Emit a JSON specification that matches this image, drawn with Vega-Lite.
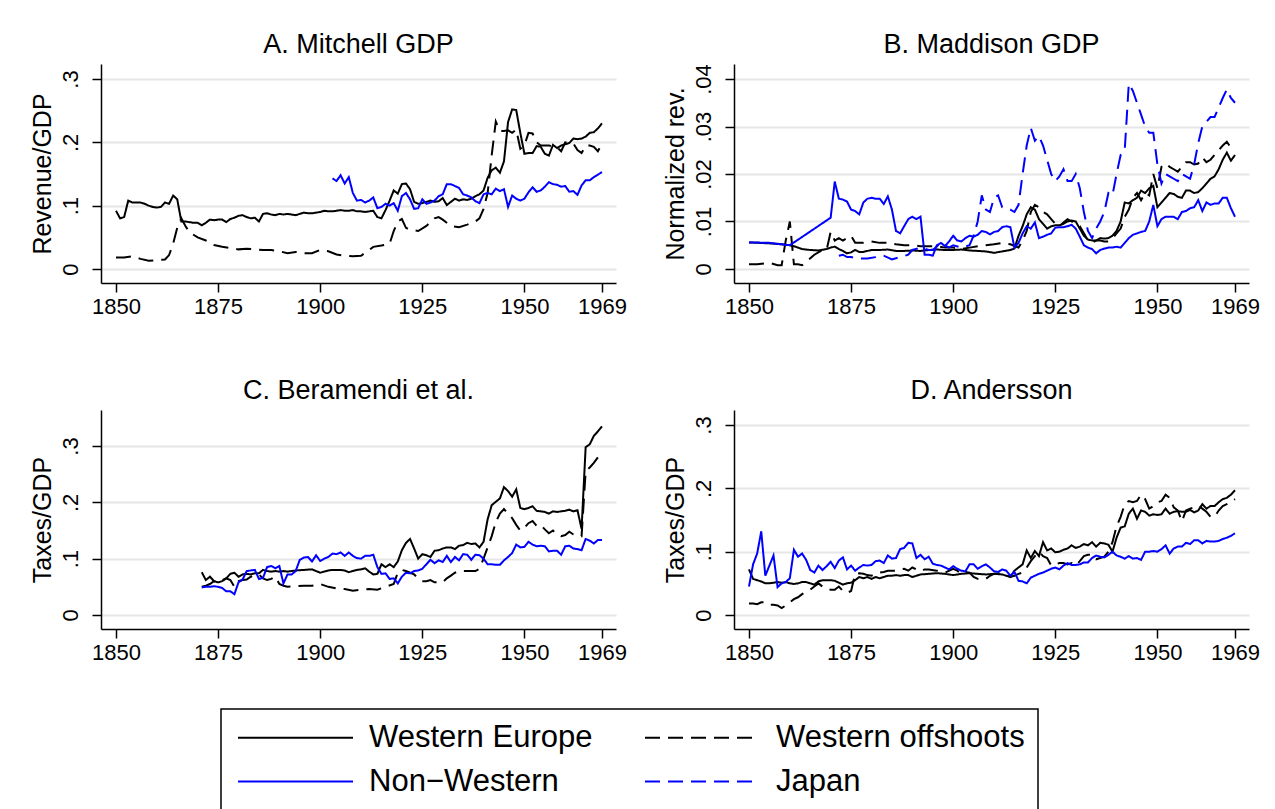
{
"$schema": "https://vega.github.io/schema/vega-lite/v6.json",
"padding": {"left": 30, "top": 30, "right": 0, "bottom": 0},
"background": "white",
"config": {
 "font": "Liberation Sans",
 "view": {"stroke": null},
 "title": {"fontSize": 27, "fontWeight": "normal", "color": "#000", "baseline": "alphabetic", "offset": 5, "anchor": "middle"},
 "axis": {"domainColor": "#000", "domainWidth": 1.5, "tickColor": "#000", "tickWidth": 1.5, "tickSize": 9, "labelFontSize": 22, "labelColor": "#000", "titleFontSize": 25, "titleFontWeight": "normal", "titleColor": "#000", "labelFlush": false, "labelOverlap": false},
 "axisX": {"grid": false, "labelPadding": 4},
 "axisY": {"grid": true, "gridColor": "#e6e6e6", "gridWidth": 2, "labelAngle": -90, "labelAlign": "center", "labelBaseline": "bottom", "labelPadding": 10, "titlePadding": 4},
 "legend": {"strokeColor": "#000", "strokeWidth": 1.5, "fillColor": "white", "padding": 13, "labelFontSize": 31, "labelColor": "#000", "labelOffset": 104, "labelLimit": 500, "columnPadding": 48, "rowPadding": 12, "symbolType": "M-1,0H9", "symbolSize": 529, "symbolStrokeWidth": 2}
},
"datasets": {
"A": [
{"s":"a","t":1850,"v":0.092},{"s":"a","t":1851,"v":0.080},{"s":"a","t":1852,"v":0.082},{"s":"a","t":1853,"v":0.108},{"s":"a","t":1854,"v":0.105},{"s":"a","t":1855,"v":0.105},{"s":"a","t":1856,"v":0.105},{"s":"a","t":1857,"v":0.103},{"s":"a","t":1858,"v":0.100},{"s":"a","t":1859,"v":0.098},{"s":"a","t":1860,"v":0.097},{"s":"a","t":1861,"v":0.098},{"s":"a","t":1862,"v":0.105},{"s":"a","t":1863,"v":0.103},{"s":"a","t":1864,"v":0.116},{"s":"a","t":1865,"v":0.110},{"s":"a","t":1866,"v":0.075},{"s":"a","t":1867,"v":0.075},{"s":"a","t":1868,"v":0.074},{"s":"a","t":1869,"v":0.073},{"s":"a","t":1870,"v":0.073},{"s":"a","t":1871,"v":0.069},{"s":"a","t":1872,"v":0.073},{"s":"a","t":1873,"v":0.078},{"s":"a","t":1874,"v":0.077},{"s":"a","t":1875,"v":0.078},{"s":"a","t":1876,"v":0.078},{"s":"a","t":1877,"v":0.074},{"s":"a","t":1878,"v":0.079},{"s":"a","t":1879,"v":0.081},{"s":"a","t":1880,"v":0.084},{"s":"a","t":1881,"v":0.085},{"s":"a","t":1882,"v":0.082},{"s":"a","t":1883,"v":0.080},{"s":"a","t":1884,"v":0.081},{"s":"a","t":1885,"v":0.075},{"s":"a","t":1886,"v":0.087},{"s":"a","t":1887,"v":0.088},{"s":"a","t":1888,"v":0.086},{"s":"a","t":1889,"v":0.085},{"s":"a","t":1890,"v":0.087},{"s":"a","t":1891,"v":0.086},{"s":"a","t":1892,"v":0.087},{"s":"a","t":1893,"v":0.086},{"s":"a","t":1894,"v":0.085},{"s":"a","t":1895,"v":0.087},{"s":"a","t":1896,"v":0.089},{"s":"a","t":1897,"v":0.088},{"s":"a","t":1898,"v":0.088},{"s":"a","t":1899,"v":0.089},{"s":"a","t":1900,"v":0.090},{"s":"a","t":1901,"v":0.092},{"s":"a","t":1902,"v":0.091},{"s":"a","t":1903,"v":0.091},{"s":"a","t":1904,"v":0.092},{"s":"a","t":1905,"v":0.093},{"s":"a","t":1906,"v":0.092},{"s":"a","t":1907,"v":0.092},{"s":"a","t":1908,"v":0.093},{"s":"a","t":1909,"v":0.091},{"s":"a","t":1910,"v":0.091},{"s":"a","t":1911,"v":0.090},{"s":"a","t":1912,"v":0.091},{"s":"a","t":1913,"v":0.092},{"s":"a","t":1914,"v":0.082},{"s":"a","t":1915,"v":0.080},{"s":"a","t":1916,"v":0.093},{"s":"a","t":1917,"v":0.108},{"s":"a","t":1918,"v":0.124},{"s":"a","t":1919,"v":0.119},{"s":"a","t":1920,"v":0.134},{"s":"a","t":1921,"v":0.135},{"s":"a","t":1922,"v":0.126},{"s":"a","t":1923,"v":0.106},{"s":"a","t":1924,"v":0.103},{"s":"a","t":1925,"v":0.104},{"s":"a","t":1926,"v":0.106},{"s":"a","t":1927,"v":0.108},{"s":"a","t":1928,"v":0.106},{"s":"a","t":1929,"v":0.107},{"s":"a","t":1930,"v":0.112},{"s":"a","t":1931,"v":0.101},{"s":"a","t":1932,"v":0.106},{"s":"a","t":1933,"v":0.111},{"s":"a","t":1934,"v":0.108},{"s":"a","t":1935,"v":0.110},{"s":"a","t":1936,"v":0.109},{"s":"a","t":1937,"v":0.111},{"s":"a","t":1938,"v":0.115},{"s":"a","t":1939,"v":0.118},{"s":"a","t":1940,"v":0.124},{"s":"a","t":1941,"v":0.144},{"s":"a","t":1942,"v":0.156},{"s":"a","t":1943,"v":0.160},{"s":"a","t":1944,"v":0.152},{"s":"a","t":1945,"v":0.170},{"s":"a","t":1946,"v":0.232},{"s":"a","t":1947,"v":0.252},{"s":"a","t":1948,"v":0.251},{"s":"a","t":1949,"v":0.215},{"s":"a","t":1950,"v":0.182},{"s":"a","t":1951,"v":0.183},{"s":"a","t":1952,"v":0.183},{"s":"a","t":1953,"v":0.194},{"s":"a","t":1954,"v":0.193},{"s":"a","t":1955,"v":0.182},{"s":"a","t":1956,"v":0.179},{"s":"a","t":1957,"v":0.196},{"s":"a","t":1958,"v":0.191},{"s":"a","t":1959,"v":0.195},{"s":"a","t":1960,"v":0.197},{"s":"a","t":1961,"v":0.199},{"s":"a","t":1962,"v":0.206},{"s":"a","t":1963,"v":0.205},{"s":"a","t":1964,"v":0.206},{"s":"a","t":1965,"v":0.209},{"s":"a","t":1966,"v":0.215},{"s":"a","t":1967,"v":0.216},{"s":"a","t":1968,"v":0.222},{"s":"a","t":1969,"v":0.230},
{"s":"b","t":1850,"v":0.018},{"s":"b","t":1852,"v":0.018},{"s":"b","t":1854,"v":0.020},{"s":"b","t":1856,"v":0.016},{"s":"b","t":1858,"v":0.013},{"s":"b","t":1860,"v":0.014},{"s":"b","t":1862,"v":0.015},{"s":"b","t":1863,"v":0.022},{"s":"b","t":1864,"v":0.040},{"s":"b","t":1865,"v":0.065},{"s":"b","t":1866,"v":0.080},{"s":"b","t":1867,"v":0.068},{"s":"b","t":1868,"v":0.058},{"s":"b","t":1870,"v":0.050},{"s":"b","t":1872,"v":0.045},{"s":"b","t":1874,"v":0.038},{"s":"b","t":1876,"v":0.035},{"s":"b","t":1878,"v":0.033},{"s":"b","t":1880,"v":0.031},{"s":"b","t":1882,"v":0.032},{"s":"b","t":1884,"v":0.031},{"s":"b","t":1886,"v":0.030},{"s":"b","t":1888,"v":0.030},{"s":"b","t":1890,"v":0.028},{"s":"b","t":1892,"v":0.025},{"s":"b","t":1894,"v":0.027},{"s":"b","t":1896,"v":0.025},{"s":"b","t":1898,"v":0.025},{"s":"b","t":1900,"v":0.030},{"s":"b","t":1902,"v":0.028},{"s":"b","t":1904,"v":0.023},{"s":"b","t":1906,"v":0.021},{"s":"b","t":1908,"v":0.020},{"s":"b","t":1910,"v":0.021},{"s":"b","t":1912,"v":0.030},{"s":"b","t":1913,"v":0.035},{"s":"b","t":1915,"v":0.037},{"s":"b","t":1917,"v":0.040},{"s":"b","t":1918,"v":0.060},{"s":"b","t":1919,"v":0.075},{"s":"b","t":1920,"v":0.079},{"s":"b","t":1921,"v":0.065},{"s":"b","t":1922,"v":0.062},{"s":"b","t":1924,"v":0.060},{"s":"b","t":1926,"v":0.068},{"s":"b","t":1928,"v":0.080},{"s":"b","t":1929,"v":0.082},{"s":"b","t":1930,"v":0.078},{"s":"b","t":1932,"v":0.068},{"s":"b","t":1934,"v":0.066},{"s":"b","t":1936,"v":0.070},{"s":"b","t":1938,"v":0.075},{"s":"b","t":1939,"v":0.080},{"s":"b","t":1940,"v":0.095},{"s":"b","t":1941,"v":0.120},{"s":"b","t":1942,"v":0.180},{"s":"b","t":1943,"v":0.233},{"s":"b","t":1944,"v":0.218},{"s":"b","t":1945,"v":0.218},{"s":"b","t":1946,"v":0.219},{"s":"b","t":1947,"v":0.215},{"s":"b","t":1948,"v":0.220},{"s":"b","t":1949,"v":0.190},{"s":"b","t":1950,"v":0.195},{"s":"b","t":1951,"v":0.215},{"s":"b","t":1952,"v":0.214},{"s":"b","t":1953,"v":0.200},{"s":"b","t":1954,"v":0.195},{"s":"b","t":1956,"v":0.195},{"s":"b","t":1958,"v":0.192},{"s":"b","t":1959,"v":0.186},{"s":"b","t":1960,"v":0.200},{"s":"b","t":1962,"v":0.198},{"s":"b","t":1963,"v":0.188},{"s":"b","t":1964,"v":0.183},{"s":"b","t":1965,"v":0.195},{"s":"b","t":1966,"v":0.195},{"s":"b","t":1967,"v":0.193},{"s":"b","t":1968,"v":0.186},{"s":"b","t":1969,"v":0.198},
{"s":"c","t":1903,"v":0.143},{"s":"c","t":1904,"v":0.139},{"s":"c","t":1905,"v":0.148},{"s":"c","t":1906,"v":0.135},{"s":"c","t":1907,"v":0.145},{"s":"c","t":1908,"v":0.120},{"s":"c","t":1909,"v":0.108},{"s":"c","t":1910,"v":0.109},{"s":"c","t":1911,"v":0.105},{"s":"c","t":1912,"v":0.108},{"s":"c","t":1913,"v":0.113},{"s":"c","t":1914,"v":0.096},{"s":"c","t":1915,"v":0.098},{"s":"c","t":1916,"v":0.103},{"s":"c","t":1917,"v":0.100},{"s":"c","t":1918,"v":0.104},{"s":"c","t":1919,"v":0.092},{"s":"c","t":1920,"v":0.115},{"s":"c","t":1921,"v":0.120},{"s":"c","t":1922,"v":0.110},{"s":"c","t":1923,"v":0.095},{"s":"c","t":1924,"v":0.096},{"s":"c","t":1925,"v":0.110},{"s":"c","t":1926,"v":0.103},{"s":"c","t":1927,"v":0.105},{"s":"c","t":1928,"v":0.108},{"s":"c","t":1929,"v":0.115},{"s":"c","t":1930,"v":0.118},{"s":"c","t":1931,"v":0.134},{"s":"c","t":1932,"v":0.134},{"s":"c","t":1933,"v":0.131},{"s":"c","t":1934,"v":0.128},{"s":"c","t":1935,"v":0.118},{"s":"c","t":1936,"v":0.116},{"s":"c","t":1937,"v":0.113},{"s":"c","t":1938,"v":0.107},{"s":"c","t":1939,"v":0.104},{"s":"c","t":1940,"v":0.118},{"s":"c","t":1941,"v":0.120},{"s":"c","t":1942,"v":0.118},{"s":"c","t":1943,"v":0.127},{"s":"c","t":1944,"v":0.123},{"s":"c","t":1945,"v":0.126},{"s":"c","t":1946,"v":0.098},{"s":"c","t":1947,"v":0.116},{"s":"c","t":1948,"v":0.111},{"s":"c","t":1949,"v":0.108},{"s":"c","t":1950,"v":0.111},{"s":"c","t":1951,"v":0.121},{"s":"c","t":1952,"v":0.129},{"s":"c","t":1953,"v":0.122},{"s":"c","t":1954,"v":0.124},{"s":"c","t":1955,"v":0.130},{"s":"c","t":1956,"v":0.137},{"s":"c","t":1957,"v":0.134},{"s":"c","t":1958,"v":0.133},{"s":"c","t":1959,"v":0.130},{"s":"c","t":1960,"v":0.131},{"s":"c","t":1961,"v":0.122},{"s":"c","t":1962,"v":0.123},{"s":"c","t":1963,"v":0.117},{"s":"c","t":1964,"v":0.132},{"s":"c","t":1965,"v":0.140},{"s":"c","t":1966,"v":0.140},{"s":"c","t":1967,"v":0.145},{"s":"c","t":1968,"v":0.149},{"s":"c","t":1969,"v":0.153}
],
"B": [
{"s":"a","t":1850,"v":0.0056},{"s":"a","t":1855,"v":0.0054},{"s":"a","t":1858,"v":0.0052},{"s":"a","t":1860,"v":0.0050},{"s":"a","t":1861,"v":0.0048},{"s":"a","t":1862,"v":0.0045},{"s":"a","t":1863,"v":0.0042},{"s":"a","t":1865,"v":0.0040},{"s":"a","t":1867,"v":0.0039},{"s":"a","t":1869,"v":0.0042},{"s":"a","t":1870,"v":0.0045},{"s":"a","t":1871,"v":0.0047},{"s":"a","t":1872,"v":0.0042},{"s":"a","t":1873,"v":0.0038},{"s":"a","t":1874,"v":0.0033},{"s":"a","t":1875,"v":0.0035},{"s":"a","t":1876,"v":0.0040},{"s":"a","t":1877,"v":0.0036},{"s":"a","t":1878,"v":0.0036},{"s":"a","t":1880,"v":0.0040},{"s":"a","t":1882,"v":0.0040},{"s":"a","t":1884,"v":0.0041},{"s":"a","t":1886,"v":0.0038},{"s":"a","t":1888,"v":0.0038},{"s":"a","t":1890,"v":0.0039},{"s":"a","t":1892,"v":0.0038},{"s":"a","t":1894,"v":0.0040},{"s":"a","t":1896,"v":0.0041},{"s":"a","t":1898,"v":0.0040},{"s":"a","t":1900,"v":0.0040},{"s":"a","t":1902,"v":0.0041},{"s":"a","t":1904,"v":0.0039},{"s":"a","t":1906,"v":0.0038},{"s":"a","t":1908,"v":0.0037},{"s":"a","t":1910,"v":0.0034},{"s":"a","t":1912,"v":0.0037},{"s":"a","t":1914,"v":0.0040},{"s":"a","t":1915,"v":0.0043},{"s":"a","t":1916,"v":0.0070},{"s":"a","t":1917,"v":0.0090},{"s":"a","t":1918,"v":0.0115},{"s":"a","t":1919,"v":0.0130},{"s":"a","t":1920,"v":0.0125},{"s":"a","t":1921,"v":0.0105},{"s":"a","t":1922,"v":0.0095},{"s":"a","t":1923,"v":0.0085},{"s":"a","t":1924,"v":0.0090},{"s":"a","t":1925,"v":0.0092},{"s":"a","t":1926,"v":0.0092},{"s":"a","t":1927,"v":0.0095},{"s":"a","t":1928,"v":0.0100},{"s":"a","t":1929,"v":0.0102},{"s":"a","t":1930,"v":0.0100},{"s":"a","t":1931,"v":0.0085},{"s":"a","t":1932,"v":0.0070},{"s":"a","t":1933,"v":0.0062},{"s":"a","t":1934,"v":0.0060},{"s":"a","t":1935,"v":0.0060},{"s":"a","t":1936,"v":0.0065},{"s":"a","t":1937,"v":0.0064},{"s":"a","t":1938,"v":0.0065},{"s":"a","t":1939,"v":0.0070},{"s":"a","t":1940,"v":0.0080},{"s":"a","t":1941,"v":0.0100},{"s":"a","t":1942,"v":0.0140},{"s":"a","t":1943,"v":0.0138},{"s":"a","t":1944,"v":0.0145},{"s":"a","t":1945,"v":0.0150},{"s":"a","t":1946,"v":0.0165},{"s":"a","t":1947,"v":0.0160},{"s":"a","t":1948,"v":0.0170},{"s":"a","t":1949,"v":0.0175},{"s":"a","t":1950,"v":0.0130},{"s":"a","t":1951,"v":0.0140},{"s":"a","t":1952,"v":0.0150},{"s":"a","t":1953,"v":0.0160},{"s":"a","t":1954,"v":0.0158},{"s":"a","t":1955,"v":0.0152},{"s":"a","t":1956,"v":0.0150},{"s":"a","t":1957,"v":0.0165},{"s":"a","t":1958,"v":0.0165},{"s":"a","t":1959,"v":0.0160},{"s":"a","t":1960,"v":0.0162},{"s":"a","t":1961,"v":0.0170},{"s":"a","t":1962,"v":0.0180},{"s":"a","t":1963,"v":0.0190},{"s":"a","t":1964,"v":0.0195},{"s":"a","t":1965,"v":0.0210},{"s":"a","t":1966,"v":0.0230},{"s":"a","t":1967,"v":0.0245},{"s":"a","t":1968,"v":0.0228},{"s":"a","t":1969,"v":0.0240},
{"s":"b","t":1850,"v":0.0010},{"s":"b","t":1852,"v":0.0010},{"s":"b","t":1855,"v":0.0013},{"s":"b","t":1857,"v":0.0008},{"s":"b","t":1858,"v":0.0008},{"s":"b","t":1859,"v":0.0060},{"s":"b","t":1860,"v":0.0100},{"s":"b","t":1861,"v":0.0010},{"s":"b","t":1862,"v":0.0010},{"s":"b","t":1863,"v":0.0008},{"s":"b","t":1864,"v":0.0015},{"s":"b","t":1866,"v":0.0030},{"s":"b","t":1868,"v":0.0040},{"s":"b","t":1869,"v":0.0040},{"s":"b","t":1870,"v":0.0078},{"s":"b","t":1871,"v":0.0060},{"s":"b","t":1872,"v":0.0065},{"s":"b","t":1873,"v":0.0060},{"s":"b","t":1874,"v":0.0065},{"s":"b","t":1875,"v":0.0070},{"s":"b","t":1876,"v":0.0055},{"s":"b","t":1878,"v":0.0055},{"s":"b","t":1880,"v":0.0058},{"s":"b","t":1882,"v":0.0055},{"s":"b","t":1884,"v":0.0055},{"s":"b","t":1886,"v":0.0052},{"s":"b","t":1888,"v":0.0050},{"s":"b","t":1890,"v":0.0050},{"s":"b","t":1892,"v":0.0048},{"s":"b","t":1894,"v":0.0048},{"s":"b","t":1896,"v":0.0048},{"s":"b","t":1898,"v":0.0045},{"s":"b","t":1900,"v":0.0045},{"s":"b","t":1902,"v":0.0042},{"s":"b","t":1904,"v":0.0045},{"s":"b","t":1906,"v":0.0048},{"s":"b","t":1908,"v":0.0050},{"s":"b","t":1910,"v":0.0052},{"s":"b","t":1912,"v":0.0055},{"s":"b","t":1914,"v":0.0052},{"s":"b","t":1916,"v":0.0045},{"s":"b","t":1917,"v":0.0060},{"s":"b","t":1918,"v":0.0080},{"s":"b","t":1919,"v":0.0120},{"s":"b","t":1920,"v":0.0135},{"s":"b","t":1921,"v":0.0130},{"s":"b","t":1922,"v":0.0120},{"s":"b","t":1923,"v":0.0115},{"s":"b","t":1924,"v":0.0105},{"s":"b","t":1925,"v":0.0095},{"s":"b","t":1926,"v":0.0090},{"s":"b","t":1927,"v":0.0098},{"s":"b","t":1928,"v":0.0105},{"s":"b","t":1929,"v":0.0100},{"s":"b","t":1930,"v":0.0095},{"s":"b","t":1931,"v":0.0090},{"s":"b","t":1932,"v":0.0075},{"s":"b","t":1933,"v":0.0060},{"s":"b","t":1934,"v":0.0055},{"s":"b","t":1935,"v":0.0060},{"s":"b","t":1936,"v":0.0060},{"s":"b","t":1937,"v":0.0058},{"s":"b","t":1938,"v":0.0058},{"s":"b","t":1939,"v":0.0065},{"s":"b","t":1940,"v":0.0075},{"s":"b","t":1941,"v":0.0085},{"s":"b","t":1942,"v":0.0110},{"s":"b","t":1943,"v":0.0125},{"s":"b","t":1944,"v":0.0150},{"s":"b","t":1945,"v":0.0160},{"s":"b","t":1946,"v":0.0145},{"s":"b","t":1947,"v":0.0160},{"s":"b","t":1948,"v":0.0155},{"s":"b","t":1949,"v":0.0200},{"s":"b","t":1950,"v":0.0170},{"s":"b","t":1951,"v":0.0215},{"s":"b","t":1952,"v":0.0222},{"s":"b","t":1953,"v":0.0215},{"s":"b","t":1954,"v":0.0210},{"s":"b","t":1955,"v":0.0205},{"s":"b","t":1956,"v":0.0215},{"s":"b","t":1957,"v":0.0225},{"s":"b","t":1958,"v":0.0225},{"s":"b","t":1959,"v":0.0220},{"s":"b","t":1960,"v":0.0222},{"s":"b","t":1961,"v":0.0235},{"s":"b","t":1962,"v":0.0225},{"s":"b","t":1963,"v":0.0230},{"s":"b","t":1964,"v":0.0240},{"s":"b","t":1965,"v":0.0250},{"s":"b","t":1966,"v":0.0260},{"s":"b","t":1967,"v":0.0268},{"s":"b","t":1968,"v":0.0255},{"s":"b","t":1969,"v":0.0248},
{"s":"c","t":1850,"v":0.0056},{"s":"c","t":1855,"v":0.0055},{"s":"c","t":1860,"v":0.0050},{"s":"c","t":1870,"v":0.0108},{"s":"c","t":1871,"v":0.0184},{"s":"c","t":1872,"v":0.0148},{"s":"c","t":1873,"v":0.0146},{"s":"c","t":1874,"v":0.0142},{"s":"c","t":1875,"v":0.0125},{"s":"c","t":1876,"v":0.0122},{"s":"c","t":1877,"v":0.0115},{"s":"c","t":1878,"v":0.0140},{"s":"c","t":1879,"v":0.0148},{"s":"c","t":1880,"v":0.0150},{"s":"c","t":1881,"v":0.0148},{"s":"c","t":1882,"v":0.0148},{"s":"c","t":1883,"v":0.0137},{"s":"c","t":1884,"v":0.0153},{"s":"c","t":1885,"v":0.0125},{"s":"c","t":1886,"v":0.0080},{"s":"c","t":1887,"v":0.0075},{"s":"c","t":1888,"v":0.0090},{"s":"c","t":1889,"v":0.0105},{"s":"c","t":1890,"v":0.0110},{"s":"c","t":1891,"v":0.0105},{"s":"c","t":1892,"v":0.0110},{"s":"c","t":1893,"v":0.0030},{"s":"c","t":1894,"v":0.0030},{"s":"c","t":1895,"v":0.0028},{"s":"c","t":1896,"v":0.0050},{"s":"c","t":1897,"v":0.0055},{"s":"c","t":1898,"v":0.0048},{"s":"c","t":1899,"v":0.0058},{"s":"c","t":1900,"v":0.0070},{"s":"c","t":1901,"v":0.0060},{"s":"c","t":1902,"v":0.0058},{"s":"c","t":1903,"v":0.0065},{"s":"c","t":1904,"v":0.0070},{"s":"c","t":1905,"v":0.0068},{"s":"c","t":1906,"v":0.0072},{"s":"c","t":1907,"v":0.0080},{"s":"c","t":1908,"v":0.0078},{"s":"c","t":1909,"v":0.0073},{"s":"c","t":1910,"v":0.0078},{"s":"c","t":1911,"v":0.0080},{"s":"c","t":1912,"v":0.0088},{"s":"c","t":1913,"v":0.0090},{"s":"c","t":1914,"v":0.0088},{"s":"c","t":1915,"v":0.0045},{"s":"c","t":1916,"v":0.0055},{"s":"c","t":1917,"v":0.0075},{"s":"c","t":1918,"v":0.0090},{"s":"c","t":1919,"v":0.0085},{"s":"c","t":1920,"v":0.0098},{"s":"c","t":1921,"v":0.0065},{"s":"c","t":1922,"v":0.0068},{"s":"c","t":1923,"v":0.0072},{"s":"c","t":1924,"v":0.0075},{"s":"c","t":1925,"v":0.0087},{"s":"c","t":1926,"v":0.0088},{"s":"c","t":1927,"v":0.0088},{"s":"c","t":1928,"v":0.0090},{"s":"c","t":1929,"v":0.0093},{"s":"c","t":1930,"v":0.0085},{"s":"c","t":1931,"v":0.0068},{"s":"c","t":1932,"v":0.0050},{"s":"c","t":1933,"v":0.0045},{"s":"c","t":1934,"v":0.0042},{"s":"c","t":1935,"v":0.0033},{"s":"c","t":1936,"v":0.0040},{"s":"c","t":1937,"v":0.0043},{"s":"c","t":1938,"v":0.0045},{"s":"c","t":1939,"v":0.0045},{"s":"c","t":1940,"v":0.0047},{"s":"c","t":1941,"v":0.0045},{"s":"c","t":1942,"v":0.0055},{"s":"c","t":1943,"v":0.0065},{"s":"c","t":1944,"v":0.0072},{"s":"c","t":1945,"v":0.0075},{"s":"c","t":1946,"v":0.0078},{"s":"c","t":1947,"v":0.0080},{"s":"c","t":1948,"v":0.0100},{"s":"c","t":1949,"v":0.0135},{"s":"c","t":1950,"v":0.0090},{"s":"c","t":1951,"v":0.0105},{"s":"c","t":1952,"v":0.0110},{"s":"c","t":1953,"v":0.0110},{"s":"c","t":1954,"v":0.0110},{"s":"c","t":1955,"v":0.0105},{"s":"c","t":1956,"v":0.0120},{"s":"c","t":1957,"v":0.0122},{"s":"c","t":1958,"v":0.0128},{"s":"c","t":1959,"v":0.0130},{"s":"c","t":1960,"v":0.0145},{"s":"c","t":1961,"v":0.0122},{"s":"c","t":1962,"v":0.0140},{"s":"c","t":1963,"v":0.0135},{"s":"c","t":1964,"v":0.0138},{"s":"c","t":1965,"v":0.0138},{"s":"c","t":1966,"v":0.0150},{"s":"c","t":1967,"v":0.0150},{"s":"c","t":1968,"v":0.0128},{"s":"c","t":1969,"v":0.0110},
{"s":"d","t":1872,"v":0.0028},{"s":"d","t":1873,"v":0.0030},{"s":"d","t":1874,"v":0.0025},{"s":"d","t":1875,"v":0.0025},{"s":"d","t":1877,"v":0.0022},{"s":"d","t":1879,"v":0.0022},{"s":"d","t":1881,"v":0.0025},{"s":"d","t":1883,"v":0.0028},{"s":"d","t":1885,"v":0.0020},{"s":"d","t":1887,"v":0.0025},{"s":"d","t":1889,"v":0.0030},{"s":"d","t":1890,"v":0.0040},{"s":"d","t":1892,"v":0.0045},{"s":"d","t":1894,"v":0.0040},{"s":"d","t":1895,"v":0.0040},{"s":"d","t":1897,"v":0.0055},{"s":"d","t":1899,"v":0.0045},{"s":"d","t":1900,"v":0.0050},{"s":"d","t":1902,"v":0.0045},{"s":"d","t":1904,"v":0.0050},{"s":"d","t":1905,"v":0.0070},{"s":"d","t":1906,"v":0.0100},{"s":"d","t":1907,"v":0.0155},{"s":"d","t":1908,"v":0.0125},{"s":"d","t":1909,"v":0.0120},{"s":"d","t":1910,"v":0.0150},{"s":"d","t":1911,"v":0.0155},{"s":"d","t":1912,"v":0.0130},{"s":"d","t":1913,"v":0.0128},{"s":"d","t":1914,"v":0.0125},{"s":"d","t":1915,"v":0.0120},{"s":"d","t":1916,"v":0.0135},{"s":"d","t":1917,"v":0.0200},{"s":"d","t":1918,"v":0.0260},{"s":"d","t":1919,"v":0.0297},{"s":"d","t":1920,"v":0.0270},{"s":"d","t":1921,"v":0.0280},{"s":"d","t":1922,"v":0.0260},{"s":"d","t":1923,"v":0.0230},{"s":"d","t":1924,"v":0.0200},{"s":"d","t":1925,"v":0.0185},{"s":"d","t":1926,"v":0.0195},{"s":"d","t":1927,"v":0.0210},{"s":"d","t":1928,"v":0.0185},{"s":"d","t":1929,"v":0.0185},{"s":"d","t":1930,"v":0.0200},{"s":"d","t":1931,"v":0.0170},{"s":"d","t":1932,"v":0.0120},{"s":"d","t":1933,"v":0.0080},{"s":"d","t":1934,"v":0.0065},{"s":"d","t":1935,"v":0.0085},{"s":"d","t":1936,"v":0.0100},{"s":"d","t":1937,"v":0.0120},{"s":"d","t":1938,"v":0.0160},{"s":"d","t":1939,"v":0.0155},{"s":"d","t":1940,"v":0.0200},{"s":"d","t":1941,"v":0.0240},{"s":"d","t":1942,"v":0.0250},{"s":"d","t":1943,"v":0.0390},{"s":"d","t":1944,"v":0.0375},{"s":"d","t":1945,"v":0.0350},{"s":"d","t":1946,"v":0.0325},{"s":"d","t":1947,"v":0.0300},{"s":"d","t":1948,"v":0.0287},{"s":"d","t":1949,"v":0.0287},{"s":"d","t":1950,"v":0.0220},{"s":"d","t":1951,"v":0.0180},{"s":"d","t":1952,"v":0.0200},{"s":"d","t":1953,"v":0.0195},{"s":"d","t":1954,"v":0.0190},{"s":"d","t":1955,"v":0.0185},{"s":"d","t":1956,"v":0.0200},{"s":"d","t":1957,"v":0.0195},{"s":"d","t":1958,"v":0.0190},{"s":"d","t":1959,"v":0.0220},{"s":"d","t":1960,"v":0.0265},{"s":"d","t":1961,"v":0.0300},{"s":"d","t":1962,"v":0.0310},{"s":"d","t":1963,"v":0.0320},{"s":"d","t":1964,"v":0.0320},{"s":"d","t":1965,"v":0.0340},{"s":"d","t":1966,"v":0.0360},{"s":"d","t":1967,"v":0.0378},{"s":"d","t":1968,"v":0.0360},{"s":"d","t":1969,"v":0.0350}
],
"C": [
{"s":"a","t":1871,"v":0.076},{"s":"a","t":1872,"v":0.062},{"s":"a","t":1873,"v":0.068},{"s":"a","t":1874,"v":0.060},{"s":"a","t":1875,"v":0.058},{"s":"a","t":1876,"v":0.060},{"s":"a","t":1877,"v":0.065},{"s":"a","t":1878,"v":0.073},{"s":"a","t":1879,"v":0.075},{"s":"a","t":1880,"v":0.068},{"s":"a","t":1881,"v":0.072},{"s":"a","t":1882,"v":0.073},{"s":"a","t":1883,"v":0.072},{"s":"a","t":1884,"v":0.074},{"s":"a","t":1885,"v":0.074},{"s":"a","t":1886,"v":0.080},{"s":"a","t":1887,"v":0.078},{"s":"a","t":1888,"v":0.077},{"s":"a","t":1889,"v":0.078},{"s":"a","t":1890,"v":0.077},{"s":"a","t":1891,"v":0.078},{"s":"a","t":1892,"v":0.077},{"s":"a","t":1894,"v":0.079},{"s":"a","t":1896,"v":0.080},{"s":"a","t":1898,"v":0.081},{"s":"a","t":1899,"v":0.078},{"s":"a","t":1900,"v":0.075},{"s":"a","t":1901,"v":0.077},{"s":"a","t":1902,"v":0.079},{"s":"a","t":1903,"v":0.080},{"s":"a","t":1905,"v":0.080},{"s":"a","t":1906,"v":0.079},{"s":"a","t":1907,"v":0.076},{"s":"a","t":1908,"v":0.078},{"s":"a","t":1909,"v":0.080},{"s":"a","t":1910,"v":0.081},{"s":"a","t":1911,"v":0.083},{"s":"a","t":1912,"v":0.077},{"s":"a","t":1913,"v":0.072},{"s":"a","t":1914,"v":0.073},{"s":"a","t":1915,"v":0.090},{"s":"a","t":1916,"v":0.085},{"s":"a","t":1917,"v":0.090},{"s":"a","t":1918,"v":0.085},{"s":"a","t":1919,"v":0.095},{"s":"a","t":1920,"v":0.115},{"s":"a","t":1921,"v":0.128},{"s":"a","t":1922,"v":0.135},{"s":"a","t":1923,"v":0.118},{"s":"a","t":1924,"v":0.100},{"s":"a","t":1925,"v":0.108},{"s":"a","t":1926,"v":0.106},{"s":"a","t":1927,"v":0.103},{"s":"a","t":1928,"v":0.114},{"s":"a","t":1929,"v":0.115},{"s":"a","t":1930,"v":0.118},{"s":"a","t":1931,"v":0.120},{"s":"a","t":1932,"v":0.120},{"s":"a","t":1933,"v":0.117},{"s":"a","t":1934,"v":0.123},{"s":"a","t":1935,"v":0.124},{"s":"a","t":1936,"v":0.128},{"s":"a","t":1937,"v":0.126},{"s":"a","t":1938,"v":0.127},{"s":"a","t":1939,"v":0.120},{"s":"a","t":1940,"v":0.130},{"s":"a","t":1941,"v":0.170},{"s":"a","t":1942,"v":0.195},{"s":"a","t":1943,"v":0.201},{"s":"a","t":1944,"v":0.207},{"s":"a","t":1945,"v":0.227},{"s":"a","t":1946,"v":0.220},{"s":"a","t":1947,"v":0.210},{"s":"a","t":1948,"v":0.223},{"s":"a","t":1949,"v":0.190},{"s":"a","t":1950,"v":0.188},{"s":"a","t":1951,"v":0.190},{"s":"a","t":1952,"v":0.193},{"s":"a","t":1953,"v":0.185},{"s":"a","t":1954,"v":0.184},{"s":"a","t":1955,"v":0.183},{"s":"a","t":1956,"v":0.180},{"s":"a","t":1957,"v":0.184},{"s":"a","t":1958,"v":0.183},{"s":"a","t":1959,"v":0.184},{"s":"a","t":1960,"v":0.185},{"s":"a","t":1961,"v":0.187},{"s":"a","t":1962,"v":0.184},{"s":"a","t":1963,"v":0.186},{"s":"a","t":1964,"v":0.153},{"s":"a","t":1965,"v":0.298},{"s":"a","t":1966,"v":0.303},{"s":"a","t":1967,"v":0.318},{"s":"a","t":1968,"v":0.326},{"s":"a","t":1969,"v":0.335},
{"s":"b","t":1871,"v":0.050},{"s":"b","t":1872,"v":0.052},{"s":"b","t":1873,"v":0.055},{"s":"b","t":1874,"v":0.060},{"s":"b","t":1875,"v":0.058},{"s":"b","t":1876,"v":0.062},{"s":"b","t":1877,"v":0.065},{"s":"b","t":1878,"v":0.062},{"s":"b","t":1879,"v":0.050},{"s":"b","t":1880,"v":0.060},{"s":"b","t":1881,"v":0.062},{"s":"b","t":1882,"v":0.063},{"s":"b","t":1883,"v":0.068},{"s":"b","t":1884,"v":0.070},{"s":"b","t":1885,"v":0.072},{"s":"b","t":1886,"v":0.065},{"s":"b","t":1887,"v":0.062},{"s":"b","t":1888,"v":0.064},{"s":"b","t":1889,"v":0.068},{"s":"b","t":1890,"v":0.055},{"s":"b","t":1891,"v":0.052},{"s":"b","t":1892,"v":0.050},{"s":"b","t":1894,"v":0.051},{"s":"b","t":1896,"v":0.052},{"s":"b","t":1898,"v":0.052},{"s":"b","t":1900,"v":0.055},{"s":"b","t":1902,"v":0.050},{"s":"b","t":1904,"v":0.047},{"s":"b","t":1906,"v":0.046},{"s":"b","t":1908,"v":0.043},{"s":"b","t":1910,"v":0.045},{"s":"b","t":1912,"v":0.046},{"s":"b","t":1914,"v":0.045},{"s":"b","t":1916,"v":0.050},{"s":"b","t":1918,"v":0.055},{"s":"b","t":1919,"v":0.075},{"s":"b","t":1920,"v":0.080},{"s":"b","t":1921,"v":0.078},{"s":"b","t":1922,"v":0.075},{"s":"b","t":1923,"v":0.072},{"s":"b","t":1924,"v":0.065},{"s":"b","t":1925,"v":0.060},{"s":"b","t":1926,"v":0.060},{"s":"b","t":1927,"v":0.062},{"s":"b","t":1928,"v":0.058},{"s":"b","t":1930,"v":0.058},{"s":"b","t":1931,"v":0.065},{"s":"b","t":1932,"v":0.070},{"s":"b","t":1933,"v":0.075},{"s":"b","t":1934,"v":0.078},{"s":"b","t":1936,"v":0.078},{"s":"b","t":1938,"v":0.078},{"s":"b","t":1939,"v":0.082},{"s":"b","t":1940,"v":0.100},{"s":"b","t":1941,"v":0.120},{"s":"b","t":1942,"v":0.140},{"s":"b","t":1943,"v":0.165},{"s":"b","t":1944,"v":0.180},{"s":"b","t":1945,"v":0.188},{"s":"b","t":1946,"v":0.180},{"s":"b","t":1947,"v":0.172},{"s":"b","t":1948,"v":0.160},{"s":"b","t":1949,"v":0.150},{"s":"b","t":1950,"v":0.155},{"s":"b","t":1951,"v":0.163},{"s":"b","t":1952,"v":0.167},{"s":"b","t":1953,"v":0.158},{"s":"b","t":1954,"v":0.160},{"s":"b","t":1955,"v":0.152},{"s":"b","t":1956,"v":0.145},{"s":"b","t":1957,"v":0.150},{"s":"b","t":1958,"v":0.143},{"s":"b","t":1959,"v":0.140},{"s":"b","t":1960,"v":0.142},{"s":"b","t":1961,"v":0.148},{"s":"b","t":1962,"v":0.143},{"s":"b","t":1963,"v":0.140},{"s":"b","t":1964,"v":0.140},{"s":"b","t":1965,"v":0.255},{"s":"b","t":1966,"v":0.262},{"s":"b","t":1967,"v":0.270},{"s":"b","t":1968,"v":0.280},{"s":"b","t":1969,"v":0.290},
{"s":"c","t":1871,"v":0.049},{"s":"c","t":1872,"v":0.050},{"s":"c","t":1873,"v":0.050},{"s":"c","t":1874,"v":0.051},{"s":"c","t":1875,"v":0.050},{"s":"c","t":1876,"v":0.048},{"s":"c","t":1877,"v":0.042},{"s":"c","t":1878,"v":0.042},{"s":"c","t":1879,"v":0.037},{"s":"c","t":1880,"v":0.058},{"s":"c","t":1881,"v":0.063},{"s":"c","t":1882,"v":0.078},{"s":"c","t":1883,"v":0.079},{"s":"c","t":1884,"v":0.080},{"s":"c","t":1885,"v":0.064},{"s":"c","t":1886,"v":0.066},{"s":"c","t":1887,"v":0.085},{"s":"c","t":1888,"v":0.087},{"s":"c","t":1889,"v":0.083},{"s":"c","t":1890,"v":0.087},{"s":"c","t":1891,"v":0.056},{"s":"c","t":1892,"v":0.072},{"s":"c","t":1893,"v":0.072},{"s":"c","t":1894,"v":0.078},{"s":"c","t":1895,"v":0.098},{"s":"c","t":1896,"v":0.102},{"s":"c","t":1897,"v":0.103},{"s":"c","t":1898,"v":0.095},{"s":"c","t":1899,"v":0.106},{"s":"c","t":1900,"v":0.096},{"s":"c","t":1901,"v":0.100},{"s":"c","t":1902,"v":0.103},{"s":"c","t":1903,"v":0.109},{"s":"c","t":1904,"v":0.108},{"s":"c","t":1905,"v":0.111},{"s":"c","t":1906,"v":0.105},{"s":"c","t":1907,"v":0.111},{"s":"c","t":1908,"v":0.105},{"s":"c","t":1909,"v":0.101},{"s":"c","t":1910,"v":0.100},{"s":"c","t":1911,"v":0.105},{"s":"c","t":1912,"v":0.105},{"s":"c","t":1913,"v":0.107},{"s":"c","t":1914,"v":0.085},{"s":"c","t":1915,"v":0.073},{"s":"c","t":1916,"v":0.074},{"s":"c","t":1917,"v":0.064},{"s":"c","t":1918,"v":0.065},{"s":"c","t":1919,"v":0.056},{"s":"c","t":1920,"v":0.068},{"s":"c","t":1921,"v":0.075},{"s":"c","t":1922,"v":0.074},{"s":"c","t":1923,"v":0.078},{"s":"c","t":1924,"v":0.079},{"s":"c","t":1925,"v":0.082},{"s":"c","t":1926,"v":0.090},{"s":"c","t":1927,"v":0.098},{"s":"c","t":1928,"v":0.092},{"s":"c","t":1929,"v":0.097},{"s":"c","t":1930,"v":0.094},{"s":"c","t":1931,"v":0.105},{"s":"c","t":1932,"v":0.094},{"s":"c","t":1933,"v":0.103},{"s":"c","t":1934,"v":0.097},{"s":"c","t":1935,"v":0.108},{"s":"c","t":1936,"v":0.107},{"s":"c","t":1937,"v":0.098},{"s":"c","t":1938,"v":0.107},{"s":"c","t":1939,"v":0.106},{"s":"c","t":1940,"v":0.100},{"s":"c","t":1941,"v":0.090},{"s":"c","t":1942,"v":0.090},{"s":"c","t":1943,"v":0.089},{"s":"c","t":1944,"v":0.089},{"s":"c","t":1945,"v":0.097},{"s":"c","t":1946,"v":0.103},{"s":"c","t":1947,"v":0.110},{"s":"c","t":1948,"v":0.125},{"s":"c","t":1949,"v":0.120},{"s":"c","t":1950,"v":0.121},{"s":"c","t":1951,"v":0.130},{"s":"c","t":1952,"v":0.125},{"s":"c","t":1953,"v":0.122},{"s":"c","t":1954,"v":0.123},{"s":"c","t":1955,"v":0.122},{"s":"c","t":1956,"v":0.113},{"s":"c","t":1957,"v":0.114},{"s":"c","t":1958,"v":0.114},{"s":"c","t":1959,"v":0.107},{"s":"c","t":1960,"v":0.122},{"s":"c","t":1961,"v":0.123},{"s":"c","t":1962,"v":0.118},{"s":"c","t":1963,"v":0.117},{"s":"c","t":1964,"v":0.115},{"s":"c","t":1965,"v":0.135},{"s":"c","t":1966,"v":0.132},{"s":"c","t":1967,"v":0.127},{"s":"c","t":1968,"v":0.133},{"s":"c","t":1969,"v":0.133}
],
"D": [
{"s":"a","t":1850,"v":0.072},{"s":"a","t":1851,"v":0.057},{"s":"a","t":1852,"v":0.055},{"s":"a","t":1853,"v":0.053},{"s":"a","t":1854,"v":0.050},{"s":"a","t":1855,"v":0.050},{"s":"a","t":1856,"v":0.051},{"s":"a","t":1857,"v":0.052},{"s":"a","t":1858,"v":0.051},{"s":"a","t":1859,"v":0.052},{"s":"a","t":1860,"v":0.050},{"s":"a","t":1861,"v":0.049},{"s":"a","t":1862,"v":0.050},{"s":"a","t":1863,"v":0.052},{"s":"a","t":1864,"v":0.052},{"s":"a","t":1865,"v":0.050},{"s":"a","t":1866,"v":0.048},{"s":"a","t":1867,"v":0.053},{"s":"a","t":1868,"v":0.055},{"s":"a","t":1869,"v":0.055},{"s":"a","t":1870,"v":0.055},{"s":"a","t":1871,"v":0.054},{"s":"a","t":1872,"v":0.051},{"s":"a","t":1873,"v":0.048},{"s":"a","t":1874,"v":0.050},{"s":"a","t":1875,"v":0.051},{"s":"a","t":1876,"v":0.055},{"s":"a","t":1877,"v":0.060},{"s":"a","t":1878,"v":0.058},{"s":"a","t":1879,"v":0.060},{"s":"a","t":1880,"v":0.057},{"s":"a","t":1881,"v":0.060},{"s":"a","t":1882,"v":0.058},{"s":"a","t":1883,"v":0.060},{"s":"a","t":1884,"v":0.062},{"s":"a","t":1885,"v":0.062},{"s":"a","t":1886,"v":0.063},{"s":"a","t":1887,"v":0.062},{"s":"a","t":1888,"v":0.063},{"s":"a","t":1889,"v":0.063},{"s":"a","t":1890,"v":0.060},{"s":"a","t":1891,"v":0.062},{"s":"a","t":1892,"v":0.064},{"s":"a","t":1894,"v":0.065},{"s":"a","t":1896,"v":0.066},{"s":"a","t":1898,"v":0.065},{"s":"a","t":1900,"v":0.063},{"s":"a","t":1902,"v":0.065},{"s":"a","t":1904,"v":0.066},{"s":"a","t":1906,"v":0.065},{"s":"a","t":1908,"v":0.064},{"s":"a","t":1910,"v":0.065},{"s":"a","t":1912,"v":0.064},{"s":"a","t":1913,"v":0.062},{"s":"a","t":1914,"v":0.060},{"s":"a","t":1915,"v":0.070},{"s":"a","t":1916,"v":0.075},{"s":"a","t":1917,"v":0.080},{"s":"a","t":1918,"v":0.102},{"s":"a","t":1919,"v":0.090},{"s":"a","t":1920,"v":0.101},{"s":"a","t":1921,"v":0.093},{"s":"a","t":1922,"v":0.115},{"s":"a","t":1923,"v":0.102},{"s":"a","t":1924,"v":0.105},{"s":"a","t":1925,"v":0.099},{"s":"a","t":1926,"v":0.100},{"s":"a","t":1927,"v":0.103},{"s":"a","t":1928,"v":0.105},{"s":"a","t":1929,"v":0.110},{"s":"a","t":1930,"v":0.106},{"s":"a","t":1931,"v":0.108},{"s":"a","t":1932,"v":0.112},{"s":"a","t":1933,"v":0.110},{"s":"a","t":1934,"v":0.115},{"s":"a","t":1935,"v":0.108},{"s":"a","t":1936,"v":0.114},{"s":"a","t":1937,"v":0.113},{"s":"a","t":1938,"v":0.111},{"s":"a","t":1939,"v":0.100},{"s":"a","t":1940,"v":0.122},{"s":"a","t":1941,"v":0.138},{"s":"a","t":1942,"v":0.140},{"s":"a","t":1943,"v":0.160},{"s":"a","t":1944,"v":0.168},{"s":"a","t":1945,"v":0.152},{"s":"a","t":1946,"v":0.165},{"s":"a","t":1947,"v":0.163},{"s":"a","t":1948,"v":0.157},{"s":"a","t":1949,"v":0.159},{"s":"a","t":1950,"v":0.158},{"s":"a","t":1951,"v":0.159},{"s":"a","t":1952,"v":0.168},{"s":"a","t":1953,"v":0.160},{"s":"a","t":1954,"v":0.163},{"s":"a","t":1955,"v":0.164},{"s":"a","t":1956,"v":0.163},{"s":"a","t":1957,"v":0.163},{"s":"a","t":1958,"v":0.166},{"s":"a","t":1959,"v":0.162},{"s":"a","t":1960,"v":0.165},{"s":"a","t":1961,"v":0.175},{"s":"a","t":1962,"v":0.168},{"s":"a","t":1963,"v":0.172},{"s":"a","t":1964,"v":0.172},{"s":"a","t":1965,"v":0.178},{"s":"a","t":1966,"v":0.183},{"s":"a","t":1967,"v":0.185},{"s":"a","t":1968,"v":0.190},{"s":"a","t":1969,"v":0.197},
{"s":"b","t":1850,"v":0.018},{"s":"b","t":1851,"v":0.018},{"s":"b","t":1852,"v":0.017},{"s":"b","t":1853,"v":0.020},{"s":"b","t":1854,"v":0.020},{"s":"b","t":1855,"v":0.016},{"s":"b","t":1856,"v":0.016},{"s":"b","t":1857,"v":0.015},{"s":"b","t":1858,"v":0.011},{"s":"b","t":1859,"v":0.015},{"s":"b","t":1860,"v":0.020},{"s":"b","t":1861,"v":0.025},{"s":"b","t":1862,"v":0.028},{"s":"b","t":1863,"v":0.033},{"s":"b","t":1864,"v":0.037},{"s":"b","t":1865,"v":0.040},{"s":"b","t":1866,"v":0.045},{"s":"b","t":1867,"v":0.050},{"s":"b","t":1868,"v":0.045},{"s":"b","t":1869,"v":0.041},{"s":"b","t":1870,"v":0.040},{"s":"b","t":1871,"v":0.040},{"s":"b","t":1872,"v":0.045},{"s":"b","t":1873,"v":0.038},{"s":"b","t":1874,"v":0.035},{"s":"b","t":1875,"v":0.038},{"s":"b","t":1876,"v":0.065},{"s":"b","t":1877,"v":0.066},{"s":"b","t":1878,"v":0.065},{"s":"b","t":1879,"v":0.063},{"s":"b","t":1880,"v":0.062},{"s":"b","t":1881,"v":0.065},{"s":"b","t":1882,"v":0.067},{"s":"b","t":1883,"v":0.068},{"s":"b","t":1884,"v":0.070},{"s":"b","t":1885,"v":0.070},{"s":"b","t":1886,"v":0.070},{"s":"b","t":1887,"v":0.072},{"s":"b","t":1888,"v":0.073},{"s":"b","t":1889,"v":0.070},{"s":"b","t":1890,"v":0.075},{"s":"b","t":1891,"v":0.072},{"s":"b","t":1892,"v":0.069},{"s":"b","t":1893,"v":0.072},{"s":"b","t":1894,"v":0.072},{"s":"b","t":1896,"v":0.070},{"s":"b","t":1898,"v":0.067},{"s":"b","t":1900,"v":0.073},{"s":"b","t":1901,"v":0.070},{"s":"b","t":1902,"v":0.065},{"s":"b","t":1903,"v":0.068},{"s":"b","t":1904,"v":0.067},{"s":"b","t":1905,"v":0.060},{"s":"b","t":1906,"v":0.057},{"s":"b","t":1907,"v":0.056},{"s":"b","t":1908,"v":0.057},{"s":"b","t":1909,"v":0.062},{"s":"b","t":1910,"v":0.065},{"s":"b","t":1912,"v":0.066},{"s":"b","t":1914,"v":0.060},{"s":"b","t":1915,"v":0.062},{"s":"b","t":1916,"v":0.065},{"s":"b","t":1917,"v":0.067},{"s":"b","t":1918,"v":0.075},{"s":"b","t":1919,"v":0.085},{"s":"b","t":1920,"v":0.093},{"s":"b","t":1921,"v":0.100},{"s":"b","t":1922,"v":0.093},{"s":"b","t":1923,"v":0.090},{"s":"b","t":1924,"v":0.078},{"s":"b","t":1925,"v":0.080},{"s":"b","t":1926,"v":0.082},{"s":"b","t":1927,"v":0.082},{"s":"b","t":1928,"v":0.080},{"s":"b","t":1929,"v":0.082},{"s":"b","t":1930,"v":0.078},{"s":"b","t":1931,"v":0.085},{"s":"b","t":1932,"v":0.093},{"s":"b","t":1933,"v":0.095},{"s":"b","t":1934,"v":0.095},{"s":"b","t":1935,"v":0.088},{"s":"b","t":1936,"v":0.090},{"s":"b","t":1937,"v":0.092},{"s":"b","t":1938,"v":0.100},{"s":"b","t":1939,"v":0.115},{"s":"b","t":1940,"v":0.140},{"s":"b","t":1941,"v":0.155},{"s":"b","t":1942,"v":0.175},{"s":"b","t":1943,"v":0.180},{"s":"b","t":1944,"v":0.178},{"s":"b","t":1945,"v":0.180},{"s":"b","t":1946,"v":0.190},{"s":"b","t":1947,"v":0.183},{"s":"b","t":1948,"v":0.168},{"s":"b","t":1949,"v":0.172},{"s":"b","t":1950,"v":0.178},{"s":"b","t":1951,"v":0.180},{"s":"b","t":1952,"v":0.190},{"s":"b","t":1953,"v":0.185},{"s":"b","t":1954,"v":0.170},{"s":"b","t":1955,"v":0.165},{"s":"b","t":1956,"v":0.148},{"s":"b","t":1957,"v":0.165},{"s":"b","t":1958,"v":0.168},{"s":"b","t":1959,"v":0.170},{"s":"b","t":1960,"v":0.173},{"s":"b","t":1961,"v":0.168},{"s":"b","t":1962,"v":0.163},{"s":"b","t":1963,"v":0.155},{"s":"b","t":1964,"v":0.155},{"s":"b","t":1965,"v":0.165},{"s":"b","t":1966,"v":0.172},{"s":"b","t":1967,"v":0.175},{"s":"b","t":1968,"v":0.178},{"s":"b","t":1969,"v":0.183},
{"s":"c","t":1850,"v":0.045},{"s":"c","t":1851,"v":0.080},{"s":"c","t":1852,"v":0.097},{"s":"c","t":1853,"v":0.132},{"s":"c","t":1854,"v":0.062},{"s":"c","t":1855,"v":0.078},{"s":"c","t":1856,"v":0.094},{"s":"c","t":1857,"v":0.044},{"s":"c","t":1858,"v":0.050},{"s":"c","t":1859,"v":0.052},{"s":"c","t":1860,"v":0.058},{"s":"c","t":1861,"v":0.103},{"s":"c","t":1862,"v":0.092},{"s":"c","t":1863,"v":0.097},{"s":"c","t":1864,"v":0.087},{"s":"c","t":1865,"v":0.071},{"s":"c","t":1866,"v":0.067},{"s":"c","t":1867,"v":0.078},{"s":"c","t":1868,"v":0.071},{"s":"c","t":1869,"v":0.077},{"s":"c","t":1870,"v":0.084},{"s":"c","t":1871,"v":0.074},{"s":"c","t":1872,"v":0.086},{"s":"c","t":1873,"v":0.091},{"s":"c","t":1874,"v":0.072},{"s":"c","t":1875,"v":0.078},{"s":"c","t":1876,"v":0.070},{"s":"c","t":1877,"v":0.075},{"s":"c","t":1878,"v":0.079},{"s":"c","t":1879,"v":0.078},{"s":"c","t":1880,"v":0.079},{"s":"c","t":1881,"v":0.085},{"s":"c","t":1882,"v":0.086},{"s":"c","t":1883,"v":0.082},{"s":"c","t":1884,"v":0.094},{"s":"c","t":1885,"v":0.089},{"s":"c","t":1886,"v":0.090},{"s":"c","t":1887,"v":0.104},{"s":"c","t":1888,"v":0.106},{"s":"c","t":1889,"v":0.114},{"s":"c","t":1890,"v":0.113},{"s":"c","t":1891,"v":0.090},{"s":"c","t":1892,"v":0.095},{"s":"c","t":1893,"v":0.088},{"s":"c","t":1894,"v":0.092},{"s":"c","t":1895,"v":0.081},{"s":"c","t":1896,"v":0.079},{"s":"c","t":1897,"v":0.078},{"s":"c","t":1898,"v":0.075},{"s":"c","t":1899,"v":0.072},{"s":"c","t":1900,"v":0.077},{"s":"c","t":1901,"v":0.073},{"s":"c","t":1902,"v":0.070},{"s":"c","t":1903,"v":0.069},{"s":"c","t":1904,"v":0.080},{"s":"c","t":1905,"v":0.080},{"s":"c","t":1906,"v":0.073},{"s":"c","t":1907,"v":0.077},{"s":"c","t":1908,"v":0.080},{"s":"c","t":1909,"v":0.075},{"s":"c","t":1910,"v":0.069},{"s":"c","t":1911,"v":0.068},{"s":"c","t":1912,"v":0.072},{"s":"c","t":1913,"v":0.070},{"s":"c","t":1914,"v":0.062},{"s":"c","t":1915,"v":0.068},{"s":"c","t":1916,"v":0.054},{"s":"c","t":1917,"v":0.053},{"s":"c","t":1918,"v":0.050},{"s":"c","t":1919,"v":0.059},{"s":"c","t":1920,"v":0.062},{"s":"c","t":1921,"v":0.065},{"s":"c","t":1922,"v":0.067},{"s":"c","t":1923,"v":0.070},{"s":"c","t":1924,"v":0.073},{"s":"c","t":1925,"v":0.075},{"s":"c","t":1926,"v":0.072},{"s":"c","t":1927,"v":0.078},{"s":"c","t":1928,"v":0.082},{"s":"c","t":1929,"v":0.079},{"s":"c","t":1930,"v":0.079},{"s":"c","t":1931,"v":0.080},{"s":"c","t":1932,"v":0.083},{"s":"c","t":1933,"v":0.083},{"s":"c","t":1934,"v":0.090},{"s":"c","t":1935,"v":0.094},{"s":"c","t":1936,"v":0.092},{"s":"c","t":1937,"v":0.091},{"s":"c","t":1938,"v":0.095},{"s":"c","t":1939,"v":0.100},{"s":"c","t":1940,"v":0.094},{"s":"c","t":1941,"v":0.092},{"s":"c","t":1942,"v":0.089},{"s":"c","t":1943,"v":0.093},{"s":"c","t":1944,"v":0.089},{"s":"c","t":1945,"v":0.090},{"s":"c","t":1946,"v":0.087},{"s":"c","t":1947,"v":0.100},{"s":"c","t":1948,"v":0.100},{"s":"c","t":1949,"v":0.101},{"s":"c","t":1950,"v":0.100},{"s":"c","t":1951,"v":0.104},{"s":"c","t":1952,"v":0.110},{"s":"c","t":1953,"v":0.097},{"s":"c","t":1954,"v":0.105},{"s":"c","t":1955,"v":0.108},{"s":"c","t":1956,"v":0.108},{"s":"c","t":1957,"v":0.114},{"s":"c","t":1958,"v":0.112},{"s":"c","t":1959,"v":0.118},{"s":"c","t":1960,"v":0.118},{"s":"c","t":1961,"v":0.113},{"s":"c","t":1962,"v":0.117},{"s":"c","t":1963,"v":0.116},{"s":"c","t":1964,"v":0.116},{"s":"c","t":1965,"v":0.117},{"s":"c","t":1966,"v":0.120},{"s":"c","t":1967,"v":0.122},{"s":"c","t":1968,"v":0.125},{"s":"c","t":1969,"v":0.129}
]
},
"columns": 2,
"spacing": {"row": 127, "column": 118},
"bounds": "flush",
"concat": [
 {"title": "A. Mitchell GDP", "width": 515, "height": 219, "data": {"name": "A"},
  "mark": {"type": "line", "strokeWidth": 2, "clip": true},
  "encoding": {
   "x": {"field": "t", "type": "quantitative", "scale": {"domain": [1846.33, 1972.43], "nice": false, "zero": false}, "axis": {"values": [1850, 1875, 1900, 1925, 1950, 1969], "format": "d", "title": null}},
   "y": {"field": "v", "type": "quantitative", "scale": {"domain": [-0.0221, 0.3237], "nice": false, "zero": false}, "axis": {"values": [0, 0.1, 0.2, 0.3], "format": ".1f", "labelExpr": "datum.value == 0 ? '0' : replace(datum.label, '0.', '.')", "title": "Revenue/GDP"}},
   "color": {"field": "s", "type": "nominal", "scale": {"domain": ["a", "b", "c", "d"], "range": ["#000000", "#000000", "#0000ff", "#0000ff"]}, "legend": {"title": null, "orient": "none", "direction": "horizontal", "legendX": 120, "legendY": 645, "columns": 2, "labelExpr": "datum.value == 'a' ? 'Western Europe' : datum.value == 'b' ? 'Western offshoots' : datum.value == 'c' ? 'Non−Western' : 'Japan'"}},
   "strokeDash": {"field": "s", "type": "nominal", "scale": {"domain": ["a", "b", "c", "d"], "range": [[1, 0], [15, 8], [1, 0], [15, 8]]}, "legend": {"title": null, "orient": "none", "direction": "horizontal", "legendX": 120, "legendY": 645, "columns": 2, "labelExpr": "datum.value == 'a' ? 'Western Europe' : datum.value == 'b' ? 'Western offshoots' : datum.value == 'c' ? 'Non−Western' : 'Japan'"}}
  }},
 {"title": "B. Maddison GDP", "width": 515, "height": 219, "data": {"name": "B"},
  "mark": {"type": "line", "strokeWidth": 2, "clip": true},
  "encoding": {
   "x": {"field": "t", "type": "quantitative", "scale": {"domain": [1846.33, 1972.43], "nice": false, "zero": false}, "axis": {"values": [1850, 1875, 1900, 1925, 1950, 1969], "format": "d", "title": null}},
   "y": {"field": "v", "type": "quantitative", "scale": {"domain": [-0.00295, 0.04316], "nice": false, "zero": false}, "axis": {"values": [0, 0.01, 0.02, 0.03, 0.04], "format": ".2f", "labelExpr": "datum.value == 0 ? '0' : replace(datum.label, '0.', '.')", "title": "Normalized rev."}},
   "color": {"field": "s", "type": "nominal"},
   "strokeDash": {"field": "s", "type": "nominal"}
  }},
 {"title": "C. Beramendi et al.", "width": 515, "height": 219, "data": {"name": "C"},
  "mark": {"type": "line", "strokeWidth": 2, "clip": true},
  "encoding": {
   "x": {"field": "t", "type": "quantitative", "scale": {"domain": [1846.33, 1972.43], "nice": false, "zero": false}, "axis": {"values": [1850, 1875, 1900, 1925, 1950, 1969], "format": "d", "title": null}},
   "y": {"field": "v", "type": "quantitative", "scale": {"domain": [-0.0249, 0.364], "nice": false, "zero": false}, "axis": {"values": [0, 0.1, 0.2, 0.3], "format": ".1f", "labelExpr": "datum.value == 0 ? '0' : replace(datum.label, '0.', '.')", "title": "Taxes/GDP"}},
   "color": {"field": "s", "type": "nominal"},
   "strokeDash": {"field": "s", "type": "nominal"}
  }},
 {"title": "D. Andersson", "width": 515, "height": 219, "data": {"name": "D"},
  "mark": {"type": "line", "strokeWidth": 2, "clip": true},
  "encoding": {
   "x": {"field": "t", "type": "quantitative", "scale": {"domain": [1846.33, 1972.43], "nice": false, "zero": false}, "axis": {"values": [1850, 1875, 1900, 1925, 1950, 1969], "format": "d", "title": null}},
   "y": {"field": "v", "type": "quantitative", "scale": {"domain": [-0.0221, 0.3237], "nice": false, "zero": false}, "axis": {"values": [0, 0.1, 0.2, 0.3], "format": ".1f", "labelExpr": "datum.value == 0 ? '0' : replace(datum.label, '0.', '.')", "title": "Taxes/GDP"}},
   "color": {"field": "s", "type": "nominal"},
   "strokeDash": {"field": "s", "type": "nominal"}
  }}
]
}
